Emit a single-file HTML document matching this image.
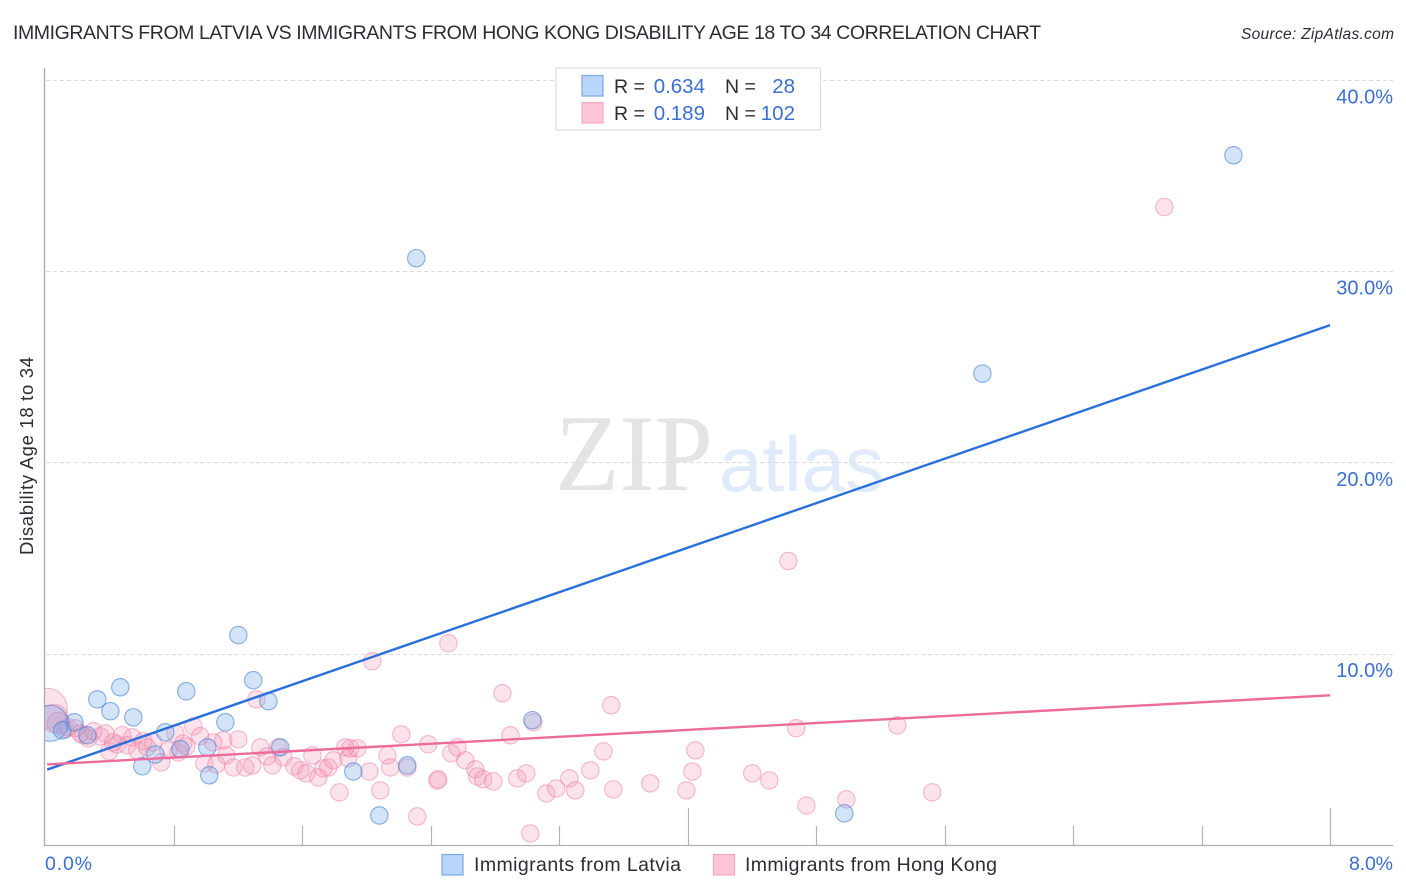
<!DOCTYPE html>
<html lang="en">
<head>
<meta charset="utf-8">
<title>Immigrants from Latvia vs Immigrants from Hong Kong Disability Age 18 to 34 Correlation Chart</title>
<style>
html,body{margin:0;padding:0;background:#fff;width:1406px;height:892px;overflow:hidden}
svg{display:block}
text{font-family:"Liberation Sans",sans-serif}
.blue{fill:#3a6fd2}
.dark{fill:#2c2c34}
</style>
</head>
<body>
<svg id="chart" width="1406" height="892" viewBox="0 0 1406 892" xmlns="http://www.w3.org/2000/svg">
  <defs>
    <clipPath id="plot-clip"><rect x="45" y="60" width="1348" height="785"/></clipPath>
  </defs>
  <text class="dark" x="13" y="39" font-size="19.5" textLength="1028" lengthAdjust="spacing">IMMIGRANTS FROM LATVIA VS IMMIGRANTS FROM HONG KONG DISABILITY AGE 18 TO 34 CORRELATION CHART</text>
  <text class="dark" x="1241" y="39" font-size="15.5" font-style="italic" textLength="153" lengthAdjust="spacing">Source: ZipAtlas.com</text>

  <g>
    <text x="555" y="490" font-size="109" fill="#e4e4e4" style="font-family:'Liberation Serif',serif" textLength="158" lengthAdjust="spacingAndGlyphs">ZIP</text>
    <text x="719" y="491" font-size="78" fill="#e0eafa" textLength="165" lengthAdjust="spacingAndGlyphs">atlas</text>
  </g>

  <g id="grid"></g>
  <g id="y-labels"></g>
  <g id="x-ticks"></g>

  <line x1="44.5" y1="68" x2="44.5" y2="846" stroke="#a9a9a9" stroke-width="1.3"/>
  <line x1="44" y1="845.5" x2="1393" y2="845.5" stroke="#b0b0b0" stroke-width="1.3"/>

  <g id="points" clip-path="url(#plot-clip)"></g>
  <g id="trends"></g>

  <text class="dark" transform="translate(33 555) rotate(-90)" x="0" y="0" font-size="18.5" textLength="198" lengthAdjust="spacing">Disability Age 18 to 34</text>

  <text class="blue" x="45" y="870" font-size="19.5" textLength="47" lengthAdjust="spacing">0.0%</text>
  <text class="blue" x="1349" y="870" font-size="19.5" textLength="44" lengthAdjust="spacing">8.0%</text>

  <g>
    <rect x="556" y="68" width="264.5" height="62" fill="#fff" stroke="#dcdcdc" stroke-width="1.2"/>
    <rect x="582" y="75.5" width="21" height="20.5" fill="#b9d5f9" stroke="#78a8e4" stroke-width="1.2"/>
    <rect x="582" y="102.5" width="21" height="20.5" fill="#fcc5d8" stroke="#f3a9c2" stroke-width="1.2"/>
    <text class="dark" x="614" y="93" font-size="19.5">R =</text>
    <text class="blue" x="705" y="93" font-size="20.5" text-anchor="end">0.634</text>
    <text class="dark" x="725" y="93" font-size="19.5">N =</text>
    <text class="blue" x="795" y="93" font-size="20.5" text-anchor="end">28</text>
    <text class="dark" x="614" y="120" font-size="19.5">R =</text>
    <text class="blue" x="705" y="120" font-size="20.5" text-anchor="end">0.189</text>
    <text class="dark" x="725" y="120" font-size="19.5">N =</text>
    <text class="blue" x="795" y="120" font-size="20.5" text-anchor="end">102</text>
  </g>

  <g>
    <rect x="442" y="854.5" width="21" height="20.5" fill="#b9d5f9" stroke="#78a8e4" stroke-width="1.2"/>
    <text class="dark" x="474" y="871" font-size="19.5" textLength="207" lengthAdjust="spacing">Immigrants from Latvia</text>
    <rect x="713.5" y="854.5" width="21" height="20.5" fill="#fcc5d8" stroke="#f3a9c2" stroke-width="1.2"/>
    <text class="dark" x="745" y="871" font-size="19.5" textLength="252" lengthAdjust="spacing">Immigrants from Hong Kong</text>
  </g>
</svg>
<script>
const xTickValues = [0.8, 1.6, 2.4, 3.2, 4, 4.8, 5.6, 6.4, 7.2, 8];
const majorXTicks = [4, 8];
const yTickValues = [10, 20, 30, 40];
const yTickLabels = ["10.0%", "20.0%", "30.0%", "40.0%"];

const latviaX = [7.398,5.835,2.310,1.202,1.295,1.389,0.878,0.467,0.324,0.405,0.548,1.121,3.033,0.181,0.031,0.106,0.747,1.009,0.685,0.841,0.604,1.021,1.463,1.918,2.254,2.080,4.975,0.262];
const latviaY = [36.08,24.67,30.70,11.0,8.64,7.54,8.06,8.27,7.64,7.02,6.70,6.44,6.55,6.44,6.39,6.02,5.92,5.13,4.76,5.03,4.14,3.67,5.13,3.87,4.19,1.57,1.68,5.76];

const hongKongX = [0.012,0.056,0.081,0.125,0.143,0.187,0.218,0.237,0.268,0.299,0.342,0.374,0.399,0.423,0.448,0.479,0.511,0.542,0.573,0.610,0.635,0.673,0.722,0.766,0.810,0.828,0.859,0.878,0.922,0.965,0.990,1.046,1.065,1.108,1.127,1.171,1.202,1.245,1.289,1.314,1.339,1.382,1.414,1.451,1.482,1.551,1.588,1.625,1.663,1.700,1.731,1.762,1.793,1.831,1.868,1.887,1.899,1.943,2.018,2.036,2.086,2.130,2.148,2.217,2.254,2.316,2.385,2.441,2.447,2.510,2.528,2.566,2.615,2.678,2.690,2.727,2.790,2.846,2.896,2.939,2.995,3.020,3.039,3.120,3.182,3.263,3.300,3.394,3.475,3.524,3.537,3.767,3.992,4.029,4.048,4.402,4.508,4.627,4.676,4.739,4.988,5.305,5.523,6.968];
const hongKongY = [7.17,6.65,6.39,6.07,6.18,6.13,5.86,5.76,5.60,5.97,5.71,5.86,4.92,5.39,5.29,5.76,5.24,5.65,4.97,5.45,5.13,5.39,4.35,4.97,5.86,4.87,5.34,5.18,6.23,5.71,4.29,5.39,4.24,5.50,4.71,4.08,5.55,4.08,4.19,7.64,5.13,4.66,4.19,5.13,4.61,4.14,3.93,3.77,4.71,3.56,4.03,4.08,4.45,2.78,5.13,4.56,5.08,5.08,3.87,9.63,2.88,4.71,4.08,5.81,4.08,1.52,5.29,3.40,3.46,10.58,4.82,5.13,4.45,3.98,3.61,3.46,3.35,7.96,5.76,3.51,3.77,0.63,6.44,2.72,2.98,3.51,2.88,3.93,4.92,7.33,2.93,3.25,2.88,3.87,4.97,3.77,3.40,14.87,6.13,2.09,2.41,6.28,2.78,33.38];

const trendX = [0.012, 8];
const latviaTrendY = [3.97, 27.2];
const hongKongTrendY = [4.24, 7.85];

const SVG_NS = 'http://www.w3.org/2000/svg';
const xScale = v => 45.3 + v * 160.6;
const yScale = v => 845.5 - v * 19.13;

function make(tag, attrs, parent) {
  const el = document.createElementNS(SVG_NS, tag);
  for (const k in attrs) el.setAttribute(k, attrs[k]);
  parent.appendChild(el);
  return el;
}

const gridGroup = document.getElementById('grid');
const yLabelGroup = document.getElementById('y-labels');
yTickValues.forEach((v, i) => {
  const y = Math.floor(yScale(v)) + 0.5;
  const line = make('line', {x1: 46, x2: 1393, y1: y, y2: y, stroke: '#dcdcdc', 'stroke-width': 1, 'stroke-dasharray': '4 3'}, gridGroup);
  
  
  const label = make('text', {x: 1393, y: yScale(v) + 23, 'font-size': 20, 'text-anchor': 'end', class: 'blue'}, yLabelGroup);
  label.textContent = yTickLabels[i];
  
  
});

const tickGroup = document.getElementById('x-ticks');
xTickValues.forEach(v => {
  const x = Math.round(xScale(v)) + 0.5;
  const top = majorXTicks.includes(v) ? 808 : 826;
  const tick = make('line', {x1: x, x2: x, y1: top, y2: 845, stroke: '#b4b4b4', 'stroke-width': 1.2}, tickGroup);
  
  
});

const pointGroup = document.getElementById('points');
const baseRadius = 8.7;
const hongKongLargeRadius = {0: 20, 1: 14, 2: 11};
const latviaLargeRadius = {14: 18};

hongKongX.forEach((v, i) => {
  const c = make('circle', {cx: xScale(v), cy: yScale(hongKongY[i]), r: hongKongLargeRadius[i] || baseRadius, fill: 'rgba(246,150,182,0.28)', stroke: 'rgba(236,120,160,0.5)', 'stroke-width': 1.1}, pointGroup);
  
  
});
latviaX.forEach((v, i) => {
  const c = make('circle', {cx: xScale(v), cy: yScale(latviaY[i]), r: latviaLargeRadius[i] || baseRadius, fill: 'rgba(110,165,235,0.3)', stroke: 'rgba(60,125,210,0.6)', 'stroke-width': 1.1}, pointGroup);
  
  
});

const trendGroup = document.getElementById('trends');
const latviaLine = make('line', {x1: xScale(trendX[0]), y1: yScale(latviaTrendY[0]), x2: xScale(trendX[1]), y2: yScale(latviaTrendY[1]), stroke: '#2a70dc', 'stroke-width': 2.4}, trendGroup);


const hongKongLine = make('line', {x1: xScale(trendX[0]), y1: yScale(hongKongTrendY[0]), x2: xScale(trendX[1]), y2: yScale(hongKongTrendY[1]), stroke: '#ec6b9c', 'stroke-width': 2.4}, trendGroup);


</script>
</body>
</html>
